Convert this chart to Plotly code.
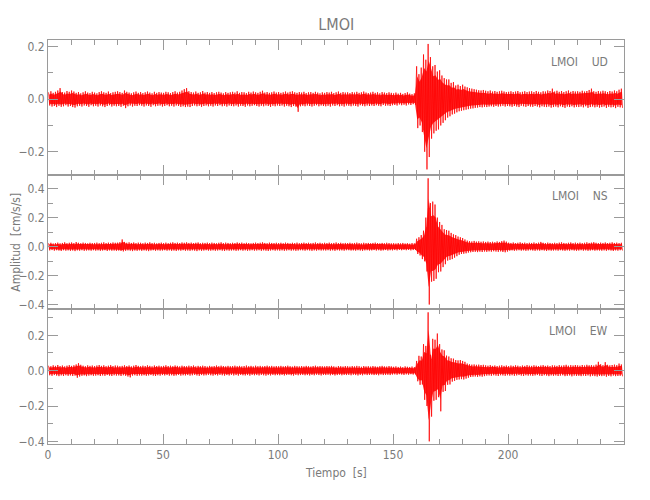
import plotly.graph_objects as go
from plotly.subplots import make_subplots

# Envelope of each trace per 1-s bin (thousandths of cm/s/s)
t_start = 0          # first bin start [s]
bin_width = 1.0      # bin width [s]

ud_max = [26,30,24,28,33,42,27,25,31,28, 33,29,24,27,22,26,30,25,23,28, 25,22,27,30,26,24,29,23,26,28,
          30,27,24,33,28,25,22,26,29,24, 27,23,26,29,25,22,28,24,27,25, 24,28,26,23,27,30,25,28,33,38,
          42,30,27,25,29,24,26,31,25,27, 24,27,23,26,28,25,22,27,24,26, 28,25,30,24,27,26,23,28,25,29,
          26,24,28,32,25,27,24,26,29,25, 27,24,26,29,25,28,30,26,24,27, 25,28,23,26,27,24,28,25,22,26,
          24,27,25,28,23,26,29,24,27,25, 26,23,27,25,28,24,26,29,25,23, 25,28,24,26,22,27,25,23,26,24,
          22,25,21,24,20,23,26,21,19,22, 125,95,120,170,150,210,160,125,130,105, 110,90,80,75,75,62,65,52,55,50,
          55,48,45,42,40,38,36,34,33,35, 32,30,33,29,31,28,30,32,29,27, 28,30,27,29,31,26,28,30,27,29,
          30,27,31,28,26,30,29,33,31,40, 29,32,28,31,27,30,33,28,31,29, 30,28,32,29,31,35,40,30,28,31,
          29,32,30,27,31,29,33,30,36,40]
ud_min = [-24,-28,-26,-30,-25,-29,-27,-23,-28,-26, -30,-32,-27,-25,-28,-24,-26,-29,-23,-27, -25,-28,-24,-27,-30,-26,-23,-28,-25,-27,
          -26,-29,-25,-34,-27,-24,-28,-25,-26,-23, -25,-28,-24,-26,-29,-23,-27,-25,-24,-28, -26,-23,-27,-25,-28,-24,-26,-29,-27,-30,
          -28,-30,-26,-24,-27,-25,-29,-26,-24,-27, -25,-28,-24,-26,-23,-27,-25,-28,-24,-26, -27,-24,-28,-25,-26,-29,-24,-27,-25,-23,
          -26,-28,-25,-27,-24,-26,-29,-25,-27,-24, -26,-24,-28,-25,-27,-30,-26,-28,-48,-27, -25,-27,-24,-26,-28,-25,-23,-27,-24,-26,
          -27,-25,-28,-24,-26,-23,-27,-25,-28,-24, -25,-27,-24,-26,-28,-23,-25,-27,-24,-26, -24,-26,-23,-25,-27,-22,-25,-24,-26,-23,
          -22,-24,-20,-23,-21,-24,-20,-22,-19,-21, -110,-100,-125,-200,-267,-220,-150,-130,-120,-115, -100,-90,-80,-70,-65,-58,-55,-50,-46,-44,
          -42,-40,-38,-36,-35,-33,-32,-30,-31,-29, -30,-28,-27,-29,-26,-28,-27,-25,-28,-26, -27,-29,-26,-28,-30,-25,-27,-29,-26,-28,
          -29,-26,-28,-31,-27,-29,-30,-28,-32,-30, -28,-31,-27,-30,-33,-28,-30,-27,-31,-29, -30,-28,-31,-27,-33,-30,-28,-31,-29,-32,
          -30,-28,-33,-29,-31,-30,-34,-29,-31,-33]

ns_max = [24,27,22,25,28,23,26,30,24,27, 29,25,32,27,24,28,26,23,27,25, 26,28,24,27,30,25,28,26,29,27,
          28,31,50,33,27,30,26,29,25,28, 27,24,28,26,30,25,27,23,26,28, 25,28,24,27,30,26,28,25,29,27,
          30,26,28,25,27,29,24,27,26,28, 25,28,26,24,27,30,25,28,26,24, 27,25,29,26,28,24,27,25,23,26,
          28,25,27,30,26,24,28,26,25,27, 25,27,24,28,26,23,27,25,28,24, 26,28,25,27,24,26,29,25,27,24,
          27,25,28,24,26,29,25,27,24,26, 25,27,24,26,28,25,23,27,25,26, 24,26,28,25,23,26,24,27,25,23,
          24,22,25,23,26,22,24,21,25,23, 55,65,80,110,200,470,300,310,290,200, 170,150,120,115,110,95,85,80,70,65,
          60,50,42,38,36,40,35,37,34,36, 33,35,32,34,31,36,33,38,42,35, 28,26,29,25,27,30,26,28,25,27,
          26,29,25,28,33,27,25,28,26,24, 27,25,28,30,26,24,27,29,25,28, 26,28,25,27,30,26,28,31,27,25,
          28,26,29,25,27,30,26,28,25,27]
ns_min = [-25,-23,-27,-24,-26,-29,-24,-27,-25,-28, -26,-30,-25,-27,-24,-28,-26,-25,-27,-24, -27,-25,-28,-26,-24,-29,-25,-27,-26,-28,
          -26,-29,-32,-28,-25,-27,-30,-26,-28,-25, -28,-25,-27,-30,-26,-24,-28,-25,-27,-26, -24,-27,-25,-28,-26,-29,-25,-27,-24,-28,
          -26,-28,-25,-27,-30,-25,-28,-26,-24,-27, -27,-25,-28,-26,-24,-27,-29,-25,-27,-26, -25,-28,-26,-24,-27,-25,-28,-26,-24,-27,
          -26,-24,-28,-25,-27,-29,-26,-24,-27,-25, -27,-25,-28,-26,-24,-27,-25,-28,-26,-24, -25,-27,-24,-26,-28,-25,-27,-24,-26,-25,
          -26,-24,-27,-25,-28,-24,-26,-25,-27,-24, -24,-26,-25,-27,-24,-26,-28,-25,-24,-26, -25,-23,-26,-24,-27,-25,-23,-26,-24,-25,
          -23,-25,-22,-24,-21,-24,-22,-25,-23,-22, -50,-60,-85,-100,-170,-397,-240,-235,-220,-175, -170,-140,-120,-95,-90,-85,-75,-65,-55,-50,
          -48,-45,-40,-38,-36,-35,-37,-34,-36,-33, -35,-32,-34,-31,-33,-35,-32,-36,-38,-33, -27,-25,-28,-26,-24,-27,-25,-28,-26,-24,
          -26,-28,-25,-27,-24,-26,-29,-25,-27,-26, -25,-27,-24,-26,-28,-25,-27,-24,-26,-28, -26,-24,-27,-25,-28,-26,-24,-27,-25,-26,
          -27,-25,-28,-24,-26,-29,-25,-27,-24,-26]

ew_max = [28,25,30,27,32,26,29,24,28,31, 27,30,35,42,33,28,25,30,27,29, 26,29,32,27,30,25,28,31,26,29,
          28,25,27,30,26,29,24,28,32,27, 25,28,26,30,27,24,29,26,28,25, 27,30,26,28,25,29,27,24,28,26,
          25,28,26,29,24,27,25,28,26,23, 27,24,26,29,25,28,26,24,27,25, 26,28,25,27,24,26,29,25,27,24,
          28,25,27,24,26,28,25,27,24,26, 25,27,24,26,28,25,23,27,25,24, 26,24,27,25,23,26,28,24,26,25,
          24,26,25,27,24,22,26,25,23,26, 25,23,26,24,27,25,22,26,24,25, 23,26,24,22,25,27,24,23,26,24,
          22,24,21,23,20,24,22,21,23,20, 55,84,80,150,140,330,90,180,175,210, 150,120,115,85,80,70,68,60,58,60,
          55,50,40,36,34,35,33,34,32,33, 30,28,31,27,29,26,28,30,27,29, 26,29,27,30,28,25,29,27,31,28,
          27,30,28,26,29,31,27,29,26,30, 29,27,31,28,30,33,28,31,29,32, 30,28,32,29,33,30,31,29,34,50,
          36,31,48,33,30,32,34,31,40,35]
ew_min = [-26,-29,-25,-28,-31,-27,-30,-26,-29,-27, -30,-28,-40,-33,-29,-27,-31,-28,-26,-29, -28,-26,-30,-27,-29,-25,-28,-30,-26,-28,
          -27,-30,-26,-29,-33,-38,-28,-26,-29,-27, -28,-26,-29,-27,-25,-28,-30,-26,-28,-25, -27,-25,-28,-26,-29,-27,-24,-28,-26,-27,
          -25,-28,-26,-24,-27,-29,-25,-27,-26,-24, -26,-28,-25,-27,-24,-26,-28,-25,-27,-24, -27,-25,-28,-24,-26,-27,-25,-28,-24,-26,
          -25,-27,-24,-26,-28,-25,-27,-24,-26,-25, -26,-24,-27,-25,-23,-26,-28,-24,-26,-25, -24,-26,-25,-27,-24,-26,-23,-25,-27,-24,
          -25,-23,-26,-24,-27,-25,-23,-26,-24,-25, -24,-26,-23,-25,-27,-24,-26,-22,-25,-24, -23,-25,-24,-26,-22,-25,-24,-23,-25,-22,
          -21,-23,-20,-22,-24,-21,-23,-20,-22,-21, -60,-80,-78,-165,-200,-400,-260,-170,-165,-150, -230,-120,-115,-80,-78,-62,-58,-52,-50,-48,
          -50,-45,-40,-36,-34,-33,-35,-32,-34,-31, -28,-27,-29,-26,-28,-30,-26,-27,-29,-26, -28,-26,-29,-27,-25,-28,-30,-26,-28,-27,
          -29,-27,-25,-28,-30,-26,-28,-31,-27,-29, -27,-30,-28,-26,-31,-29,-27,-32,-28,-30, -29,-31,-28,-30,-27,-32,-29,-31,-33,-30,
          -31,-29,-34,-30,-32,-28,-31,-30,-29,-32]

components = ["UD", "NS", "EW"]
station = "LMOI"
y_ranges = [[-0.287, 0.225], [-0.43, 0.495], [-0.415, 0.347]]
x_range = [0, 250.4]
x_ticks = [0, 50, 100, 150, 200]

AX = "#9a9a9a"
TXT = "#7a7a7a"
FONT = "Liberation Sans Narrow, DejaVu Sans Condensed, Roboto Condensed, Liberation Sans, sans-serif"


def zigzag(vmax, vmin):
    xs, ys = [], []
    for i, (a, b) in enumerate(zip(vmax, vmin)):
        t0 = t_start + i * bin_width
        xs += [t0 + 0.25 * bin_width, t0 + 0.75 * bin_width]
        ys += [a / 1000.0, b / 1000.0]
    return xs, ys


def band(vmax, vmin):
    xs = [t_start + (i + 0.5) * bin_width for i in range(len(vmax))]
    # inner core of the band: a bit narrower than the extremes
    up = [0.7 * v / 1000.0 for v in vmax]
    lo = [0.7 * v / 1000.0 for v in vmin]
    return xs + xs[::-1], up + lo[::-1]


fig = make_subplots(rows=3, cols=1, shared_xaxes=True, vertical_spacing=0)
for r, (mx, mn) in enumerate([(ud_max, ud_min), (ns_max, ns_min), (ew_max, ew_min)], start=1):
    bx, by = band(mx, mn)
    fig.add_trace(go.Scatter(x=bx, y=by, mode="lines", fill="toself",
                             fillcolor="rgba(255,0,0,0.85)", line=dict(width=0),
                             showlegend=False, hoverinfo="skip"), row=r, col=1)
    xs, ys = zigzag(mx, mn)
    fig.add_trace(go.Scatter(x=xs, y=ys, mode="lines",
                             line=dict(color="rgba(255,0,0,0.75)", width=1),
                             showlegend=False, hoverinfo="skip"), row=r, col=1)
    fig.update_yaxes(range=y_ranges[r - 1], dtick=0.2, tick0=0, tickformat=".1f",
                     ticks="inside", ticklen=10, tickcolor=AX, tickwidth=1,
                     minor=dict(ticks="inside", ticklen=5, dtick=0.1, tick0=0, tickcolor=AX),
                     showline=True, linecolor=AX, linewidth=1, mirror="ticks",
                     showgrid=False, zeroline=False, automargin=False,
                     tickfont=dict(family=FONT, size=12, color=TXT), row=r, col=1)
    fig.update_xaxes(range=x_range, tickvals=x_ticks,
                     ticks="inside", ticklen=10, tickcolor=AX, tickwidth=1,
                     minor=dict(ticks="inside", ticklen=5, dtick=10, tick0=0, tickcolor=AX),
                     showline=True, linecolor=AX, linewidth=1, mirror="ticks",
                     showgrid=False, zeroline=False, automargin=False,
                     tickfont=dict(family=FONT, size=12, color=TXT), row=r, col=1)

annotations = []
for r, comp in enumerate(components, start=1):
    yref = "y domain" if r == 1 else f"y{r} domain"
    xref = "x domain" if r == 1 else f"x{r} domain"
    annotations.append(dict(text=f"{station}\u00a0\u00a0\u00a0\u00a0{comp}", xref=xref, yref=yref,
                            x=0.975, y=0.84, xanchor="right", yanchor="middle", showarrow=False,
                            font=dict(family=FONT, size=12, color=TXT)))
annotations.append(dict(text="Amplitud  [cm/s/s]", xref="paper", yref="paper", x=-0.056, y=0.5,
                        textangle=-90, xanchor="center", yanchor="middle", showarrow=False,
                        font=dict(family=FONT, size=12, color=TXT)))
annotations.append(dict(text="Tiempo  [s]", xref="paper", yref="paper", x=0.5, y=-0.071,
                        xanchor="center", yanchor="middle", showarrow=False,
                        font=dict(family=FONT, size=12, color=TXT)))

# the page draws the figure 8 px in from the top-left corner; margins compensate for it
fig.update_layout(
    width=650, height=500,
    margin=dict(l=40, r=34, t=32, b=64, pad=0),
    paper_bgcolor="white", plot_bgcolor="white",
    title=dict(text=station, x=0.505, xanchor="center", y=0.968, yanchor="middle",
               font=dict(family=FONT, size=16, color=TXT)),
    annotations=annotations,
)

fig.write_html("out.html")
